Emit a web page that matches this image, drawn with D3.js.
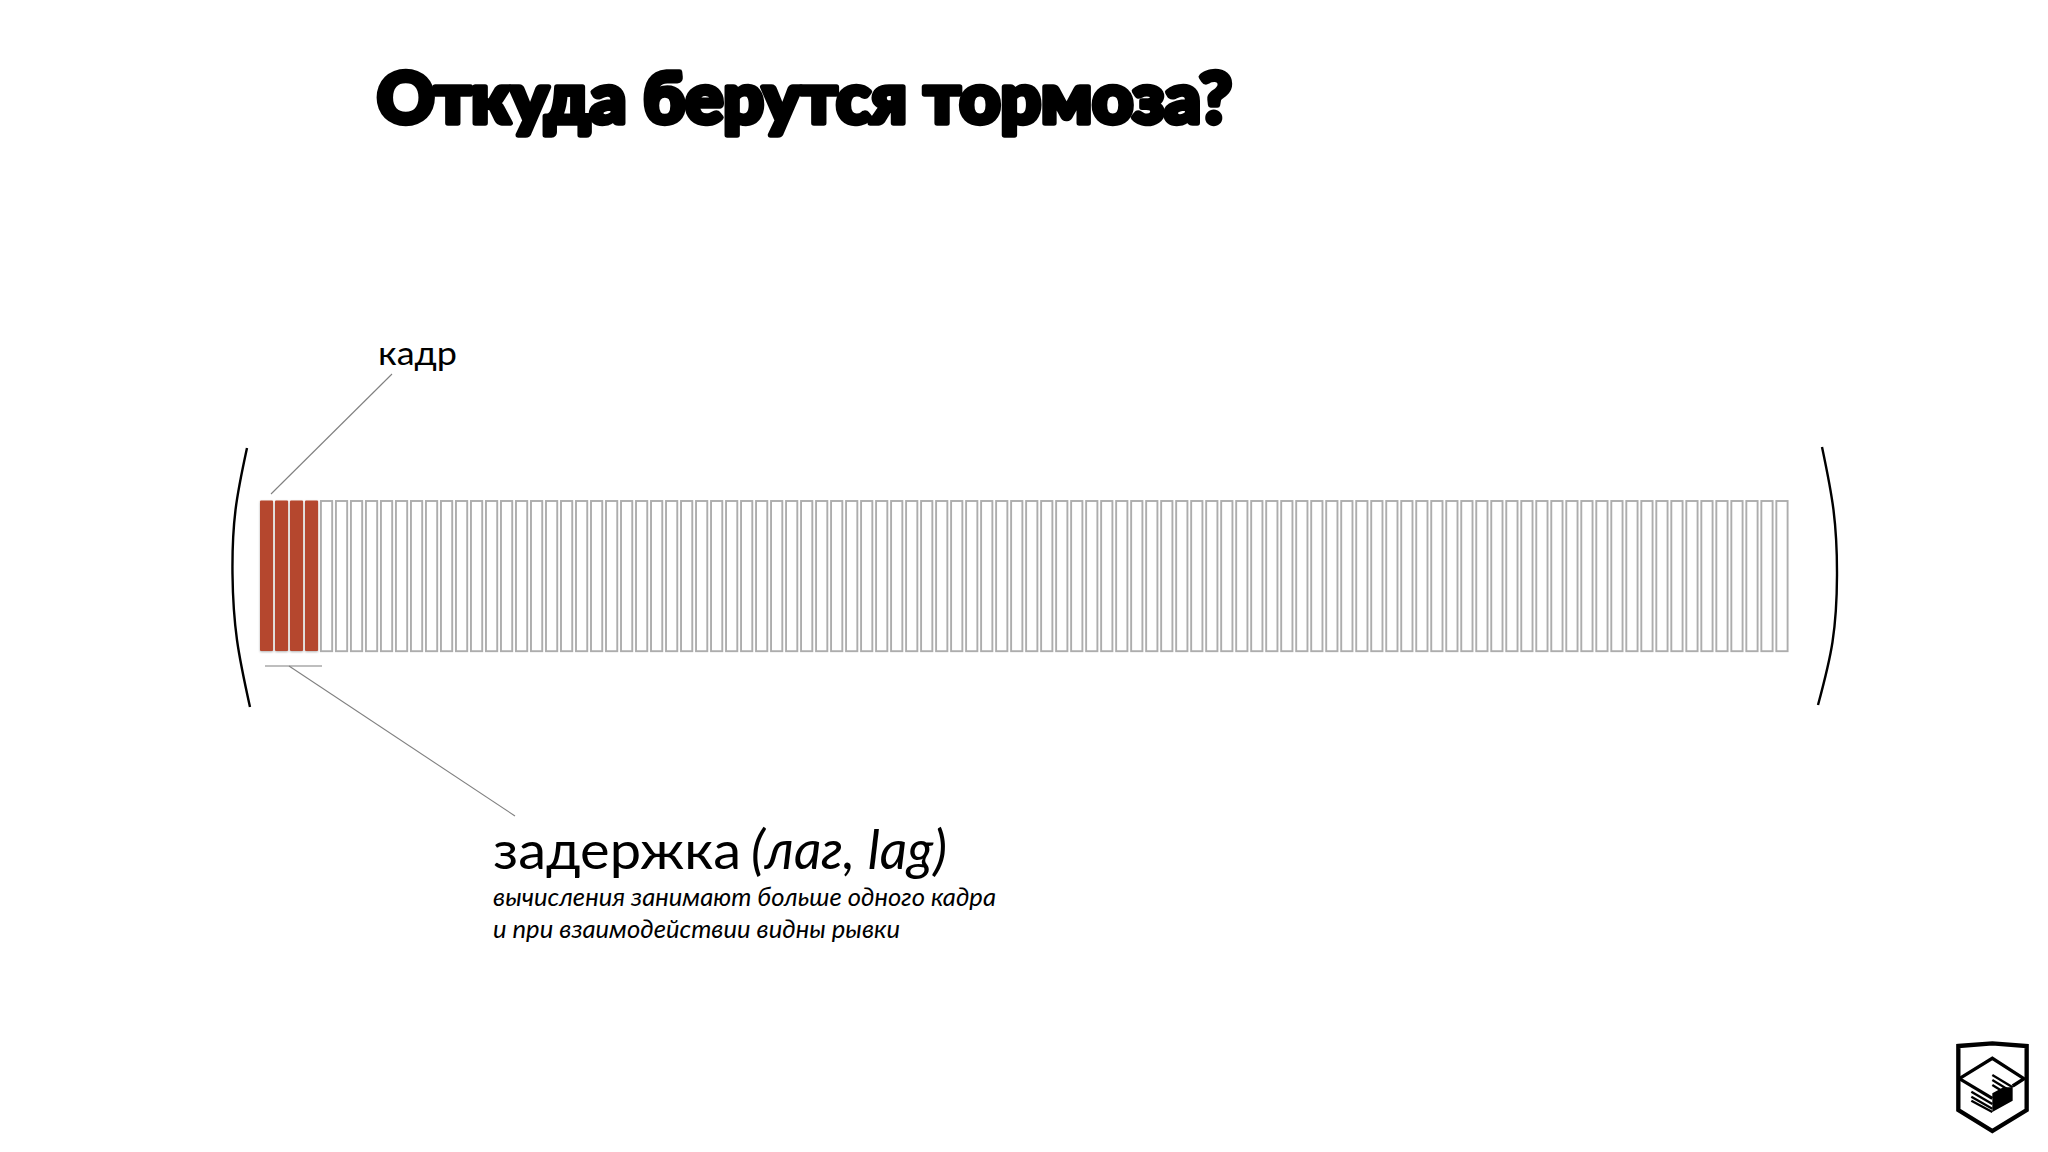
<!DOCTYPE html>
<html lang="ru"><head><meta charset="utf-8">
<script src="https://cdnjs.cloudflare.com/ajax/libs/d3/7.8.5/d3.min.js"></script>
<style>html,body{margin:0;padding:0;background:#fff}svg{display:block}</style>
</head><body><svg id="c" width="2048" height="1152"></svg>
<script>
const titleText = "Откуда берутся тормоза?";
const frameLabel = "кадр";
const lagLabel = "задержка";
const lagLabelItalic = "(лаг, lag)";
const lagNotes = ["вычисления занимают больше одного кадра", "и при взаимодействии видны рывки"];
const lagFrames = d3.range(0, 4);
const idleFrames = d3.range(4, 102);
const frames = lagFrames.concat(idleFrames);

const svg = d3.select("#c");
const x = d3.scaleBand().domain(frames).range([260, 1788.5]).paddingInner(0.13).paddingOuter(0);
const y = d3.scaleLinear().domain([0, 1]).range([653, 501]);

const defs = svg.append("defs");
defs.append("filter").attr("id", "soft").attr("x", "-30%").attr("y", "-5%").attr("width", "160%").attr("height", "110%")
  .append("feDropShadow").attr("dx", 0).attr("dy", 1).attr("stdDeviation", 1.2).attr("flood-color", "#000").attr("flood-opacity", .3);

// Title
svg.append("text").attr("x", 377).attr("y", 123).text(titleText)
  .attr("font-family", "Lato").attr("font-weight", 900).attr("font-size", 70)
  .attr("stroke", "#000").attr("stroke-width", 5.5).attr("stroke-linejoin", "round")
  .attr("textLength", 855).attr("lengthAdjust", "spacingAndGlyphs").attr("fill", "#000");

// Frames
svg.append("g").selectAll("rect").data(idleFrames).join("rect")
  .attr("x", d => x(d) + .9).attr("y", y(1)).attr("width", x.bandwidth() - 1.8).attr("height", y(0) - y(1) - 1.8)
  .attr("fill", "#fff").attr("stroke", "#adadad").attr("stroke-width", 1.9);
svg.append("g").selectAll("rect").data(lagFrames).join("rect")
  .attr("x", d => x(d)).attr("y", y(1) - .5).attr("width", x.bandwidth()).attr("height", y(0) - y(1) - 1.5)
  .attr("rx", 1).attr("fill", "#b5462f").attr("filter", "url(#soft)");

// Brackets
const bracket = d3.line().curve(d3.curveNatural);
const brL = [[247, 448], [235.5, 510], [232.5, 574], [237, 640], [250, 707]];
const brR = [[1822, 447], [1833.5, 510], [1837, 575], [1832.5, 642], [1818, 705]];
[brL, brR].forEach(p => svg.append("path").attr("d", bracket(p)).attr("fill", "none").attr("stroke", "#000").attr("stroke-width", 2.4));

// Leaders
const leader = (a, b, c, d, col, w) => svg.append("line").attr("x1", a).attr("y1", b).attr("x2", c).attr("y2", d).attr("stroke", col).attr("stroke-width", w);
leader(271, 494, 392, 374, "#808080", 1.1);
leader(265, 666, 322, 666, "#a8a8a8", 1.5);
leader(289, 666, 515, 816, "#808080", 1.1);

// Labels
svg.append("text").attr("x", 378).attr("y", 365).text(frameLabel)
  .attr("font-family", "Lato").attr("font-size", 33).attr("fill", "#000")
  .attr("textLength", 79).attr("lengthAdjust", "spacingAndGlyphs");

svg.append("text").attr("x", 493).attr("y", 869).text(lagLabel).attr("font-family", "Lato").attr("font-size", 53).attr("fill", "#000")
  .attr("textLength", 248).attr("lengthAdjust", "spacingAndGlyphs");
svg.append("text").attr("x", 751).attr("y", 869).text(lagLabelItalic).attr("font-family", "Lato").attr("font-style", "italic").attr("font-size", 54).attr("fill", "#000")
  .attr("textLength", 196).attr("lengthAdjust", "spacingAndGlyphs");

const noteLengths = [503, 407];
svg.append("g").selectAll("text").data(lagNotes).join("text")
  .attr("x", 493).attr("y", (d, i) => i ? 938 : 906).text(d => d)
  .attr("font-family", "Lato").attr("font-style", "italic").attr("font-size", 25).attr("fill", "#000")
  .attr("textLength", (d, i) => noteLengths[i]).attr("lengthAdjust", "spacingAndGlyphs");

// Logo
const logo = svg.append("g").attr("transform", "translate(1940,1030) scale(0.3333)");
logo.append("path").attr("d", "M55,48 L157,40 L260,48 L260,240 L157,303 L55,240 Z").attr("fill", "none").attr("stroke", "#000").attr("stroke-width", 13).attr("stroke-linejoin", "miter");
logo.append("path").attr("d", "M58,146 L157,85 L252,146 L218,168").attr("fill", "none").attr("stroke", "#000").attr("stroke-width", 10);
logo.append("path").attr("d", "M58,146 L157,205").attr("fill", "none").attr("stroke", "#000").attr("stroke-width", 10);
logo.append("path").attr("d", "M157,205 L218,172 L218,212 L157,246 Z M157,190 L190,172 L218,172 L157,205 Z").attr("fill", "#000");
[[94, 185, 157, 222], [94, 200, 157, 236], [94, 212, 157, 246]].forEach(p =>
  logo.append("line").attr("x1", p[0]).attr("y1", p[1]).attr("x2", p[2]).attr("y2", p[3]).attr("stroke", "#000").attr("stroke-width", 7));
[[157, 135, 218, 172], [157, 150, 200, 176], [157, 165, 185, 182]].forEach(p =>
  logo.append("line").attr("x1", p[0]).attr("y1", p[1]).attr("x2", p[2]).attr("y2", p[3]).attr("stroke", "#000").attr("stroke-width", 7));
</script></body></html>
